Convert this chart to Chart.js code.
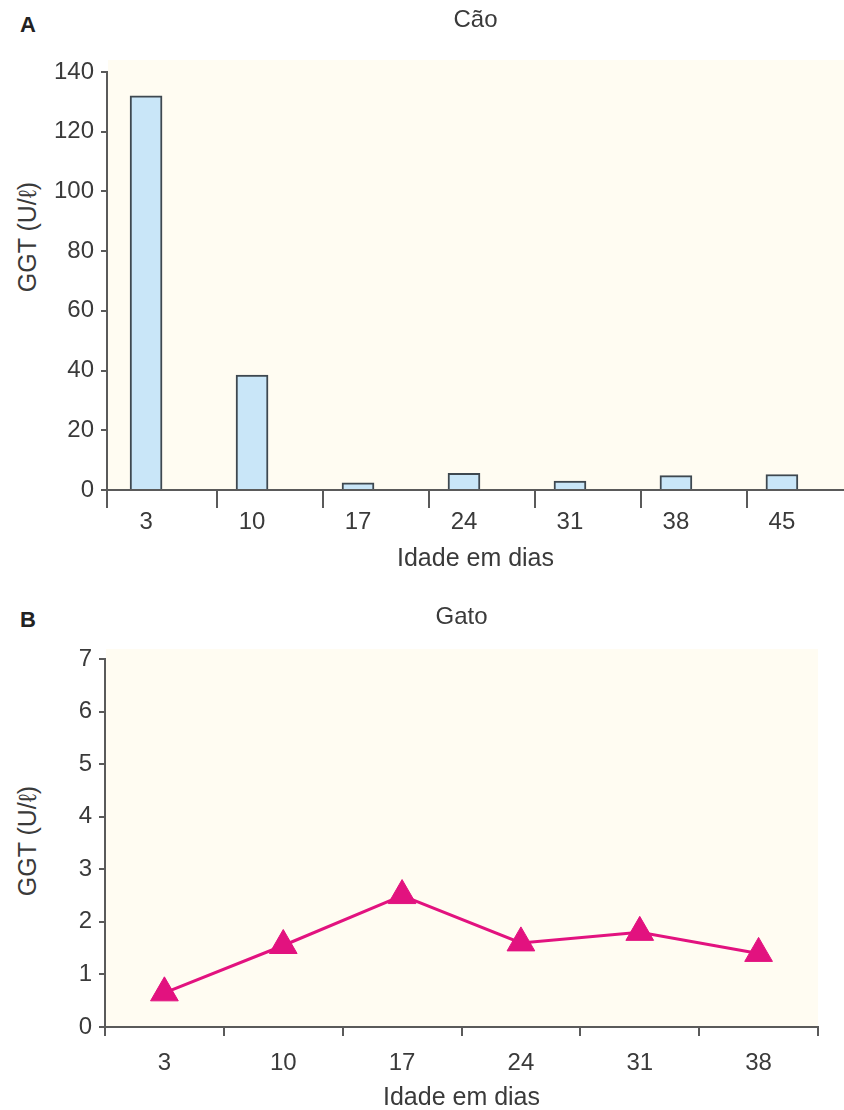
<!DOCTYPE html>
<html>
<head>
<meta charset="utf-8">
<script src="https://cdn.jsdelivr.net/npm/chart.js@4.4.1/dist/chart.umd.min.js"></script>
<style>
  html, body { margin: 0; padding: 0; background: #fff; overflow: hidden; }
  body { width: 844px; height: 1110px; position: relative; font-family: 'Liberation Sans', Arial, sans-serif; color: #3a3a3a; }
  canvas { position: absolute; left: 0; }
  #dog { top: 0; }
  #cat { top: 580px; }
  .panel { position: absolute; font-weight: bold; font-size: 22px; color: #222; transform: translate(-50%, -50%); }
  .ytitle { position: absolute; font-size: 25px; color: #3a3a3a; white-space: nowrap; transform: translate(-50%, -50%) rotate(-90deg); }
</style>
</head>
<body>
<div class="panel" style="left:28px; top:25px;">A</div>
<div class="panel" style="left:28px; top:620px;">B</div>
<div class="ytitle" style="left:27px; top:237px;">GGT (U/ℓ)</div>
<div class="ytitle" style="left:27px; top:841px;">GGT (U/ℓ)</div>
<canvas id="dog" width="844" height="580"></canvas>
<canvas id="cat" width="844" height="530"></canvas>
<script>
// Idade (dias) e GGT sérica (U/ℓ)
const dogDays = [3, 10, 17, 24, 31, 38, 45];
const dogGGT = [132, 38.5, 2.4, 5.6, 3.0, 4.8, 5.2];
const dogTicks = [0, 20, 40, 60, 80, 100, 120, 140];

const catDays = ['3', '10', '17', '24', '31', '38'];
const catGGT = [0.65, 1.55, 2.5, 1.6, 1.8, 1.4];
const catTicks = [0, 1, 2, 3, 4, 5, 6, 7];

const FONT = "'Liberation Sans', Arial, sans-serif";
const TEXT = '#3a3a3a';
const AXIS = '#5a5a5a';
const TICK_SIZE = 24;
const TITLE_SIZE = 25;

// cream plot background, drawn a little above the top tick
const plotBg = {
  id: 'plotBg',
  beforeDraw(chart, args, opts) {
    const { ctx, chartArea: a } = chart;
    ctx.save();
    ctx.fillStyle = opts.color;
    ctx.fillRect(a.left + 1, a.top - opts.extend, a.right - a.left - 1, a.bottom - a.top + opts.extend);
    ctx.restore();
  }
};

// x range of the dog panel, in days; each 7-day slot holds its bar on the left side
const dogMin = 0.42, dogMax = 49.1;
const slotEdges = [dogMin].concat(dogDays.slice(0, -1).map(d => d + 4.7));

new Chart(document.getElementById('dog'), {
  type: 'bar',
  data: {
    datasets: [{
      data: dogDays.map((d, i) => ({ x: d, y: dogGGT[i] })),
      backgroundColor: '#c9e6f8',
      borderColor: '#3e4850',
      borderWidth: 2,
      barThickness: 32,
      xAxisID: 'x',
      yAxisID: 'y'
    }]
  },
  plugins: [plotBg],
  options: {
    responsive: false,
    animation: false,
    layout: { padding: { left: 0, right: 0, top: 0, bottom: 0 } },
    plugins: {
      legend: { display: false },
      tooltip: { enabled: false },
      plotBg: { color: '#fffcf2', extend: 12 },
      title: {
        display: true,
        fullSize: false,
        text: 'Cão',
        color: TEXT,
        font: { family: FONT, size: 24, weight: 'normal' },
        padding: { top: 6, bottom: 37.2 }
      }
    },
    scales: {
      // slot boundary tick marks along the baseline
      xt: {
        type: 'linear',
        position: 'bottom',
        weight: 0,
        offset: false,
        min: dogMin, max: dogMax,
        afterBuildTicks: s => { s.ticks = slotEdges.map(v => ({ value: v })); },
        afterFit: s => { s.height = 18; },
        ticks: { display: false },
        grid: { offset: false, drawOnChartArea: false, drawTicks: true, tickLength: 18, color: AXIS, lineWidth: 2 },
        border: { display: true, color: AXIS, width: 2 }
      },
      // day labels under each bar
      x: {
        type: 'linear',
        position: 'bottom',
        weight: 1,
        offset: false,
        min: dogMin, max: dogMax,
        afterBuildTicks: s => { s.ticks = dogDays.map(v => ({ value: v })); },
        afterFit: s => { s.height = 72; },
        ticks: { color: TEXT, font: { family: FONT, size: TICK_SIZE }, padding: 0, maxRotation: 0 },
        grid: { display: false, drawTicks: false },
        border: { display: false },
        title: { display: true, text: 'Idade em dias', color: TEXT, font: { family: FONT, size: TITLE_SIZE }, padding: { top: 0, bottom: 6 } }
      },
      y: {
        min: 0, max: 140,
        afterBuildTicks: s => { s.ticks = dogTicks.map(v => ({ value: v })); },
        afterFit: s => { s.width = 107; },
        ticks: { color: TEXT, font: { family: FONT, size: TICK_SIZE }, padding: 7 },
        grid: { drawOnChartArea: false, drawTicks: true, tickLength: 6, color: AXIS, lineWidth: 2 },
        border: { display: true, color: AXIS, width: 2 }
      }
    }
  }
});

new Chart(document.getElementById('cat'), {
  type: 'line',
  data: {
    labels: catDays,
    datasets: [{
      data: catGGT,
      borderColor: '#e2127f',
      borderWidth: 3,
      pointStyle: 'triangle',
      pointRadius: 16,
      pointBackgroundColor: '#e2127f',
      pointBorderColor: '#e2127f',
      pointBorderWidth: 1,
      tension: 0
    }]
  },
  plugins: [plotBg],
  options: {
    responsive: false,
    animation: false,
    layout: { padding: { left: 0, right: 26, top: 0, bottom: 0 } },
    plugins: {
      legend: { display: false },
      tooltip: { enabled: false },
      plotBg: { color: '#fffcf2', extend: 10 },
      title: {
        display: true,
        fullSize: false,
        text: 'Gato',
        color: TEXT,
        font: { family: FONT, size: 24, weight: 'normal' },
        padding: { top: 23, bottom: 27.2 }
      }
    },
    scales: {
      x: {
        type: 'category',
        offset: true,
        afterFit: s => { s.height = 83; },
        ticks: { color: TEXT, font: { family: FONT, size: TICK_SIZE }, padding: 13, maxRotation: 0 },
        grid: { offset: true, drawOnChartArea: false, drawTicks: true, tickLength: 9, color: AXIS, lineWidth: 2 },
        border: { display: true, color: AXIS, width: 2 },
        title: { display: true, text: 'Idade em dias', color: TEXT, font: { family: FONT, size: TITLE_SIZE }, padding: { top: 0, bottom: -3 } }
      },
      y: {
        min: 0, max: 7,
        afterBuildTicks: s => { s.ticks = catTicks.map(v => ({ value: v })); },
        afterFit: s => { s.width = 105; },
        ticks: { color: TEXT, font: { family: FONT, size: TICK_SIZE }, padding: 7 },
        grid: { drawOnChartArea: false, drawTicks: true, tickLength: 6, color: AXIS, lineWidth: 2 },
        border: { display: true, color: AXIS, width: 2 }
      }
    }
  }
});
</script>
</body>
</html>
